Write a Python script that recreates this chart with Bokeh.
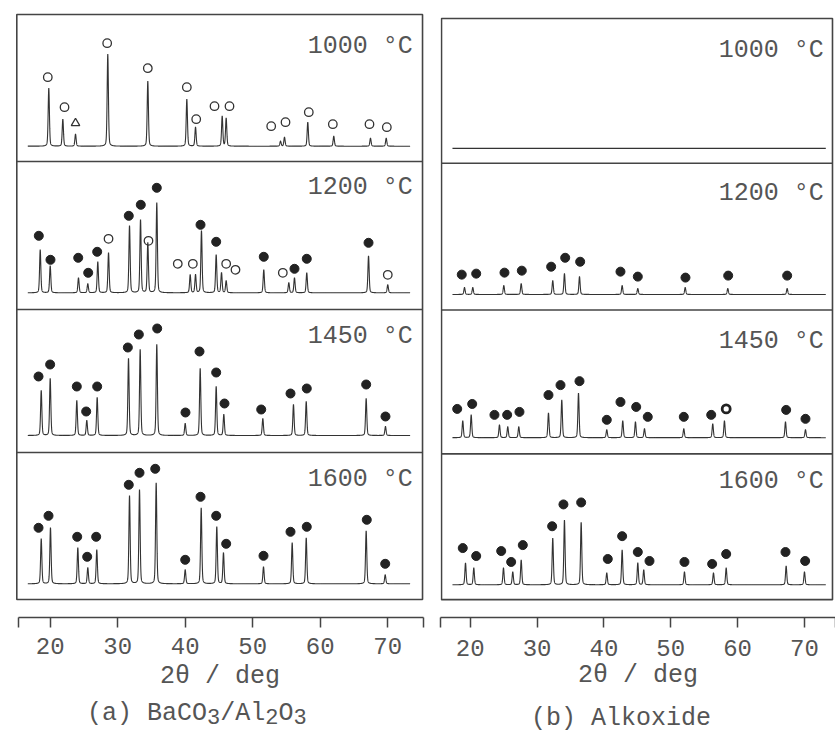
import numpy as np
from bokeh.plotting import figure
from bokeh.models import Range1d, FixedTicker, CustomJSTickFormatter, Div
from bokeh.layouts import row, column
from bokeh.embed import file_html
from bokeh.resources import INLINE
from bokeh.core.properties import value

FONT = "Liberation Mono"
TXT = "#555555"
INK = "#333333"

temps = ["1000 °C", "1200 °C", "1450 °C", "1600 °C"]
x_ticks = [20, 30, 40, 50, 60, 70]

# ---------------- (a) BaCO3/Al2O3 ----------------
a1000_pos = [19.79, 21.87, 23.75, 28.53, 34.46, 40.24, 41.53, 45.48, 46.07, 54.12, 54.71, 58.16, 62.01, 67.45, 69.78]
a1000_int = [58, 27, 12, 92, 65, 47, 19, 30, 28, 5, 9, 24, 10, 8, 8]
a1000_mk_pos = [19.64, 22.12, 23.75, 28.44, 34.46, 40.24, 41.63, 44.34, 46.56, 52.74, 54.86, 58.31, 61.87, 67.30, 69.87]
a1000_mk_int = [69, 39, 23, 103, 78, 59, 27, 40, 40, 20, 24, 34, 22, 22, 19]
a1000_mk_sym = ["o", "o", "t", "o", "o", "o", "o", "o", "o", "o", "o", "o", "o", "o", "o"]

a1200_pos = [18.52, 20.00, 24.19, 25.57, 27.05, 28.64, 31.75, 33.38, 34.46, 35.79, 40.74, 41.53, 42.41, 44.59, 45.38, 46.07, 51.64, 55.35, 56.19, 58.01, 67.16, 70.01]
a1200_int = [43, 27, 15, 9, 31, 40, 67, 73, 50, 90, 18, 18, 62, 38, 20, 12, 23, 10, 15, 20, 37, 8]
a1200_mk_pos = [18.31, 20.04, 24.15, 25.63, 26.96, 28.64, 31.64, 33.42, 34.56, 35.79, 38.90, 41.13, 42.27, 44.59, 46.07, 47.45, 51.64, 54.46, 56.19, 58.01, 67.16, 70.01]
a1200_mk_int = [57, 33, 35, 20, 41, 54, 77, 88, 52, 105, 29, 29, 68, 51, 29, 23, 36, 20, 24, 34, 50, 18]
a1200_mk_sym = ["f", "f", "f", "f", "f", "o", "f", "f", "o", "f", "o", "o", "f", "f", "o", "o", "f", "o", "f", "f", "f", "o"]

a1450_pos = [18.67, 20.00, 23.94, 25.42, 26.96, 31.60, 33.33, 35.79, 40.00, 42.22, 44.59, 45.72, 51.50, 56.04, 57.93, 66.81, 69.67]
a1450_int = [45, 57, 35, 15, 38, 77, 86, 91, 12, 67, 49, 21, 17, 31, 34, 37, 9]
a1450_mk_pos = [18.27, 19.99, 23.94, 25.33, 26.96, 31.50, 33.13, 35.85, 40.04, 42.12, 44.59, 45.82, 51.26, 55.60, 58.01, 66.81, 69.67]
a1450_mk_int = [59, 71, 49, 24, 49, 88, 101, 107, 23, 84, 63, 32, 26, 42, 47, 51, 19]
a1450_mk_sym = ["f"] * 17

a1600_pos = [18.67, 20.04, 24.09, 25.57, 26.90, 31.75, 33.23, 35.70, 40.00, 42.37, 44.68, 45.67, 51.60, 55.85, 57.93, 66.81, 69.63]
a1600_int = [45, 56, 36, 16, 34, 88, 94, 101, 14, 76, 57, 31, 17, 41, 46, 53, 9]
a1600_mk_pos = [18.27, 19.75, 24.00, 25.48, 26.81, 31.64, 33.23, 35.56, 40.00, 42.27, 44.59, 46.07, 51.60, 55.60, 58.01, 66.90, 69.63]
a1600_mk_int = [56, 68, 47, 27, 47, 99, 111, 115, 24, 87, 68, 40, 28, 52, 57, 64, 20]
a1600_mk_sym = ["f"] * 17

# ---------------- (b) Alkoxide ----------------
b1000_pos = []
b1000_int = []
b1000_mk_pos = []
b1000_mk_int = []
b1000_mk_sym = []

b1200_pos = [19.15, 20.39, 25.03, 27.63, 32.35, 34.10, 36.35, 42.73, 45.07, 52.16, 58.53, 67.41]
b1200_int = [7, 7, 9, 11, 14, 21, 18, 9, 6, 7, 6, 6]
b1200_mk_pos = [18.74, 20.90, 25.13, 27.72, 32.11, 34.21, 36.45, 42.48, 45.07, 52.20, 58.59, 67.41]
b1200_mk_int = [20, 21, 22, 24, 28, 37, 33, 23, 18, 17, 19, 19]
b1200_mk_sym = ["f"] * 12

b1450_pos = [18.89, 20.15, 24.38, 25.62, 27.27, 31.71, 33.70, 36.20, 40.43, 42.82, 44.72, 46.07, 51.95, 56.28, 58.03, 67.16, 70.15]
b1450_int = [17, 23, 13, 11, 11, 25, 38, 45, 8, 17, 16, 9, 9, 14, 17, 16, 8]
b1450_mk_pos = [18.06, 20.30, 23.63, 25.53, 27.37, 31.71, 33.51, 36.35, 40.43, 42.48, 44.83, 46.56, 51.95, 56.05, 58.29, 67.26, 70.15]
b1450_mk_int = [29, 34, 23, 23, 26, 43, 53, 57, 18, 36, 31, 21, 21, 23, 29, 28, 19]
b1450_mk_sym = ["f"] * 14 + ["r"] + ["f"] * 2

b1600_pos = [19.30, 20.54, 24.98, 26.37, 27.63, 32.35, 34.10, 36.60, 40.43, 42.73, 45.07, 45.96, 52.05, 56.39, 58.29, 67.26, 70.00]
b1600_int = [22, 17, 17, 13, 25, 47, 65, 63, 12, 35, 22, 15, 13, 12, 17, 19, 13]
b1600_mk_pos = [18.89, 20.90, 24.64, 26.13, 27.87, 32.26, 33.95, 36.60, 40.58, 42.73, 45.07, 46.82, 52.05, 56.19, 58.29, 67.16, 70.10]
b1600_mk_int = [37, 29, 34, 23, 40, 59, 81, 83, 26, 49, 33, 24, 23, 21, 31, 33, 24]
b1600_mk_sym = ["f"] * 17

panel_a = [
    (a1000_pos, a1000_int, a1000_mk_pos, a1000_mk_int, a1000_mk_sym),
    (a1200_pos, a1200_int, a1200_mk_pos, a1200_mk_int, a1200_mk_sym),
    (a1450_pos, a1450_int, a1450_mk_pos, a1450_mk_int, a1450_mk_sym),
    (a1600_pos, a1600_int, a1600_mk_pos, a1600_mk_int, a1600_mk_sym),
]
panel_b = [
    (b1000_pos, b1000_int, b1000_mk_pos, b1000_mk_int, b1000_mk_sym),
    (b1200_pos, b1200_int, b1200_mk_pos, b1200_mk_int, b1200_mk_sym),
    (b1450_pos, b1450_int, b1450_mk_pos, b1450_mk_int, b1450_mk_sym),
    (b1600_pos, b1600_int, b1600_mk_pos, b1600_mk_int, b1600_mk_sym),
]


def profile(x, pos, inten, w=0.11):
    y = np.zeros_like(x)
    for c, h in zip(pos, inten):
        d = (x - c) / w
        y += h * (0.3 / (1 + d * d) + 0.7 * np.exp(-np.log(2) * d * d))
    return y


def make_panel(patterns, cfg):
    p = figure(width=cfg["width"], height=697,
               x_range=Range1d(*cfg["xr"]), y_range=Range1d(0, cfg["ytop"]),
               output_backend="svg", toolbar_location=None, y_axis_location=None,
               min_border_left=cfg["mbl"], min_border_right=cfg["mbr"],
               min_border_top=11, min_border_bottom=cfg["mbb"],
               background_fill_color="white", border_fill_color="white",
               outline_line_color=None)
    p.xgrid.visible = False
    p.ygrid.visible = False

    ax = p.xaxis[0]
    lo, hi = cfg["axis_bounds"]
    ax.ticker = FixedTicker(ticks=[lo] + x_ticks + [hi])
    ax.formatter = CustomJSTickFormatter(
        code="return (tick >= 19 && tick <= 71) ? String(Math.round(tick)) : '';")
    ax.bounds = (lo, hi)
    ax.major_tick_in = 0
    ax.major_tick_out = 10
    ax.minor_tick_in = 0
    ax.minor_tick_out = 0
    ax.axis_line_width = 1.5
    ax.axis_line_color = "#444444"
    ax.major_tick_line_width = 1.5
    ax.major_tick_line_color = "#444444"
    ax.major_label_text_font = FONT
    ax.major_label_text_font_size = "24px"
    ax.major_label_text_color = TXT
    ax.major_label_standoff = cfg["tick_so"]
    ax.axis_label = "2θ / deg"
    ax.axis_label_text_font = FONT
    ax.axis_label_text_font_size = "25px"
    ax.axis_label_text_font_style = "normal"
    ax.axis_label_text_color = TXT
    ax.axis_label_standoff = cfg["lab_so"]

    bl, br, bb, bt = cfg["box"]
    p.quad(left=[bl], right=[br], bottom=[bb], top=[bt], fill_color=None,
           line_color="#444444", line_width=1.6)
    dv = cfg["dividers"]
    p.segment(x0=[bl] * len(dv), x1=[br] * len(dv), y0=dv, y1=dv,
              line_color="#444444", line_width=1.6)

    x = np.arange(cfg["trace"][0], cfg["trace"][1], 0.01)
    for (pos, inten, mpos, mint, msym), base in zip(patterns, cfg["baselines"]):
        y = base + profile(x, pos, inten)
        p.line(x, y, line_color=INK, line_width=1.1)
        mx = np.array(mpos, dtype=float)
        my = base + np.array(mint, dtype=float)
        s = np.array(msym)
        if len(s):
            f = s == "f"
            o = s == "o"
            t = s == "t"
            r = s == "r"
            if f.any():
                p.scatter(mx[f], my[f], marker="circle", size=9,
                          fill_color="#222222", line_color="#222222")
            if o.any():
                p.scatter(mx[o], my[o], marker="circle", size=8.5,
                          fill_color=None, line_color="#333333", line_width=1.3)
            if t.any():
                p.scatter(mx[t], my[t], marker="triangle", size=8.5,
                          fill_color=None, line_color="#333333", line_width=1.3)
            if r.any():
                p.scatter(mx[r], my[r], marker="circle", size=8,
                          fill_color=None, line_color="#222222", line_width=2.8)

    p.text(x=[cfg["label_x"]] * 4, y=cfg["label_ys"], text=temps,
           text_align="right", text_baseline="alphabetic",
           text_font=value(FONT), text_font_size="25px", text_color=TXT)
    return p


cfg_a = dict(width=431, xr=(14.71, 75.60), ytop=606, mbl=14, mbr=6, mbb=80,
             axis_bounds=(15.35, 75.30), box=(15.05, 75.16, 18, 603),
             dividers=[456, 308, 165], baselines=[471.3, 324.7, 182, 33.7],
             label_ys=[571, 429.7, 281.3, 138], label_x=73.72,
             trace=(16.68, 73.33), tick_so=10, lab_so=5)
cfg_b = dict(width=404, xr=(15.56, 74.64), ytop=611, mbl=9, mbr=0, mbb=75,
             axis_bounds=(15.57, 74.62), box=(15.71, 74.19, 18, 604),
             dividers=[458, 310, 165], baselines=[473, 325.7, 181.3, 33],
             label_ys=[571.3, 428, 278, 137], label_x=72.89,
             trace=(17.35, 73.2), tick_so=12, lab_so=2)

pa = make_panel(panel_a, cfg_a)
pb = make_panel(panel_b, cfg_b)

SUB = "<span style='font-size:22px;position:relative;top:4px'>{}</span>"
cap_style = ("font-family:'Liberation Mono';font-size:25px;color:#555555;"
             "line-height:24px;white-space:nowrap;")
cap_a = Div(text=("<div style=\"" + cap_style + "padding-left:87px;padding-top:5px\">"
                  "(a) BaCO" + SUB.format("3") + "/Al" + SUB.format("2") + "O"
                  + SUB.format("3") + "</div>"),
            width=431, height=36, margin=0)
cap_b = Div(text=("<div style=\"" + cap_style + "padding-left:100px;padding-top:10px\">"
                  "(b) Alkoxide</div>"),
            width=404, height=36, margin=0)

layout = column(row(pa, pb), row(cap_a, cap_b))

open("out.html", "w").write(file_html(layout, INLINE))
